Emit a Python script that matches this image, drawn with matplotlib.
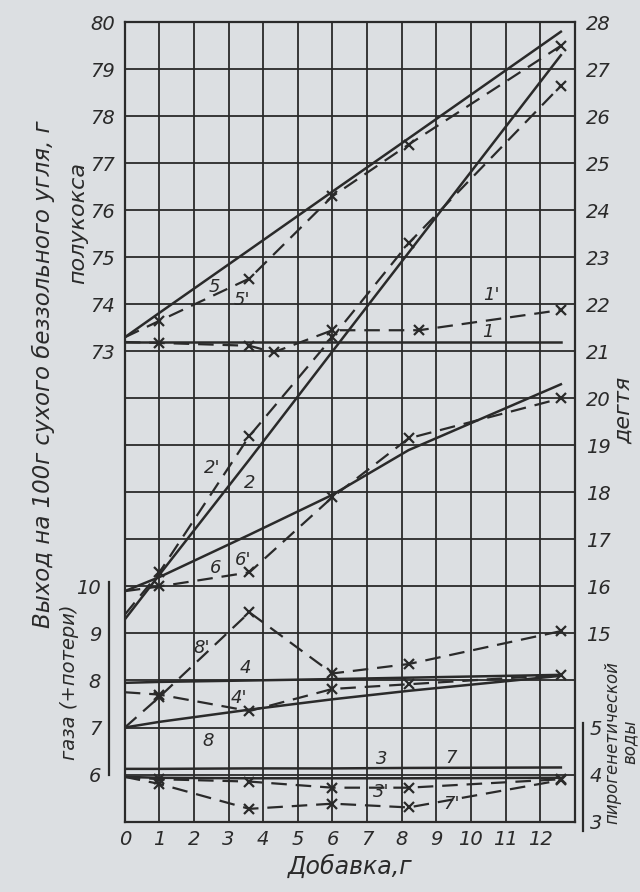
import matplotlib.pyplot as plt

plt.rcParams['font.family'] = ['DejaVu Sans']
plt.rcParams['font.style'] = 'italic'

INK = '#2a2a2a'
PAPER = '#dcdfe2'

# добавка, г
x_add = [0, 1, 3.6, 6.0, 8.2, 12.6]
x_1p = [0, 1, 3.6, 4.3, 6.0, 8.5, 12.6]

# полукокс, г (left upper scale)
coke_5 = [73.3, 73.82, 75.16, 76.4, 77.53, 79.8]
coke_5p = [73.3, 73.65, 74.55, 76.3, 77.4, 79.5]

# деготь, г (right upper scale)
tar_1 = [21.2, 21.2, 21.2, 21.2, 21.2, 21.2]
tar_1p = [21.2, 21.18, 21.12, 20.98, 21.45, 21.45, 21.88]
tar_2 = [15.3, 16.25, 18.7, 21.0, 23.1, 27.3]
tar_2p = [15.4, 16.3, 19.2, 21.3, 23.3, 26.65]
tar_6 = [15.9, 16.2, 17.1, 17.95, 18.9, 20.3]
tar_6p = [15.9, 16.0, 16.3, 17.9, 19.15, 20.0]

# газ (+потери), г (left lower scale)
gas_4 = [7.95, 7.97, 8.0, 8.03, 8.06, 8.12]
gas_4p = [7.75, 7.7, 7.35, 7.82, 7.92, 8.12]
gas_8 = [7.0, 7.12, 7.38, 7.6, 7.78, 8.1]
gas_8p = [7.0, 7.65, 9.45, 8.15, 8.35, 9.05]

# пирогенетическая вода, г (right lower scale)
water_3 = [3.95, 3.93, 3.92, 3.92, 3.92, 3.93]
water_3p = [3.95, 3.8, 3.27, 3.38, 3.3, 3.88]
water_7 = [4.12, 4.12, 4.13, 4.13, 4.14, 4.15]
water_7p = [3.95, 3.9, 3.85, 3.72, 3.72, 3.9]

# where each scale sits on the common grid
OFF_COKE, OFF_TAR, OFF_GAS, OFF_WATER = 0, 52, 58, 60

fig = plt.figure(figsize=(6.4, 8.92), dpi=100, facecolor=PAPER)
ax = fig.add_axes([0.195, 0.079, 0.703, 0.896])
ax.set_facecolor(PAPER)


def draw(xs, vals, off, dashed):
    ys = [v + off for v in vals]
    if dashed:
        ax.plot(xs, ys, color=INK, lw=1.6, dashes=(7, 4), marker='x', ms=6.5,
                mew=1.6, markevery=list(range(1, len(xs))), zorder=3)
    else:
        ax.plot(xs, ys, color=INK, lw=1.8, zorder=3)


draw(x_add, coke_5, OFF_COKE, False)
draw(x_add, coke_5p, OFF_COKE, True)
draw(x_add, tar_1, OFF_TAR, False)
draw(x_1p, tar_1p, OFF_TAR, True)
draw(x_add, tar_2, OFF_TAR, False)
draw(x_add, tar_2p, OFF_TAR, True)
draw(x_add, tar_6, OFF_TAR, False)
draw(x_add, tar_6p, OFF_TAR, True)
draw(x_add, gas_4, OFF_GAS, False)
draw(x_add, gas_4p, OFF_GAS, True)
draw(x_add, gas_8, OFF_GAS, False)
draw(x_add, gas_8p, OFF_GAS, True)
draw(x_add, water_3, OFF_WATER, False)
draw(x_add, water_3p, OFF_WATER, True)
draw(x_add, water_7, OFF_WATER, False)
draw(x_add, water_7p, OFF_WATER, True)

# curve numbers
labels = [("5", 2.6, 74.36), ("5'", 3.38, 74.1), ("1'", 10.6, 74.2), ("1", 10.5, 73.42),
          ("2'", 2.53, 70.53), ("2", 3.6, 70.2), ("6", 2.63, 68.4), ("6'", 3.43, 68.56),
          ("8'", 2.23, 66.69), ("4", 3.48, 66.26), ("4'", 3.29, 65.62), ("8", 2.41, 64.71),
          ("3", 7.41, 64.33), ("3'", 7.42, 63.63), ("7", 9.43, 64.36), ("7'", 9.45, 63.38)]
for txt, lx, ly in labels:
    ax.text(lx, ly, txt, fontsize=13, color=INK, ha='center', va='center', zorder=4)

# grid
ax.set_xlim(0, 13)
ax.set_ylim(63, 80)
ax.set_xticks(range(14))
ax.set_xticklabels([str(i) for i in range(13)] + [''])
ax.set_yticks(range(63, 81))
ax.set_yticklabels([str(v) if v >= 73 else '' for v in range(63, 81)])
ax.grid(True, color=INK, lw=1.3)
ax.set_axisbelow(True)
for s in ax.spines.values():
    s.set_color(INK)
    s.set_linewidth(1.6)
ax.tick_params(length=0, labelsize=14, colors=INK)
ax.tick_params(axis='y', pad=7)
ax.tick_params(axis='x', pad=6)
ax.set_xlabel('Добавка,г', fontsize=17, color=INK, labelpad=4)

# gas scale on the left
ax_g = ax.twinx()
ax_g.yaxis.tick_left()
ax_g.set_ylim(63, 80)
ax_g.set_yticks([v + OFF_GAS for v in range(6, 11)])
ax_g.set_yticklabels([str(v) for v in range(6, 11)])
ax_g.tick_params(length=0, labelsize=14, colors=INK, pad=17)
ax_g.spines[:].set_visible(False)

# tar scale on the right
ax_t = ax.twinx()
ax_t.set_ylim(63, 80)
ax_t.set_yticks([v + OFF_TAR for v in range(15, 29)])
ax_t.set_yticklabels([str(v) for v in range(15, 29)])
ax_t.tick_params(length=0, labelsize=14, colors=INK, pad=8)
ax_t.spines[:].set_visible(False)

# water scale on the right
ax_w = ax.twinx()
ax_w.set_ylim(63, 80)
ax_w.set_yticks([v + OFF_WATER for v in range(3, 6)])
ax_w.set_yticklabels([str(v) for v in range(3, 6)])
ax_w.tick_params(length=0, labelsize=14, colors=INK, pad=11)
ax_w.spines[:].set_visible(False)

# scale brackets
tr = ax.get_yaxis_transform()
ax.plot([-0.036, -0.036], [68.1, 64.0], transform=tr, color=INK, lw=1.6, clip_on=False)
ax.plot([1.018, 1.018], [65.1, 62.8], transform=tr, color=INK, lw=1.6, clip_on=False)

# axis titles
fig.text(0.068, 0.58, 'Выход на 100г сухого беззольного угля, г', rotation=90,
         fontsize=16.5, color=INK, ha='center', va='center')
fig.text(0.122, 0.75, 'полукокса', rotation=90, fontsize=16, color=INK,
         ha='center', va='center')
fig.text(0.108, 0.235, 'газа (+потери)', rotation=90, fontsize=14, color=INK,
         ha='center', va='center')
fig.text(0.975, 0.54, 'дегтя', rotation=90, fontsize=16, color=INK,
         ha='center', va='center')
fig.text(0.97, 0.168, 'пирогенетической\nводы', rotation=90, fontsize=12,
         color=INK, ha='center', va='center', linespacing=0.95)

fig.savefig('out.png', dpi=100, facecolor=PAPER)
